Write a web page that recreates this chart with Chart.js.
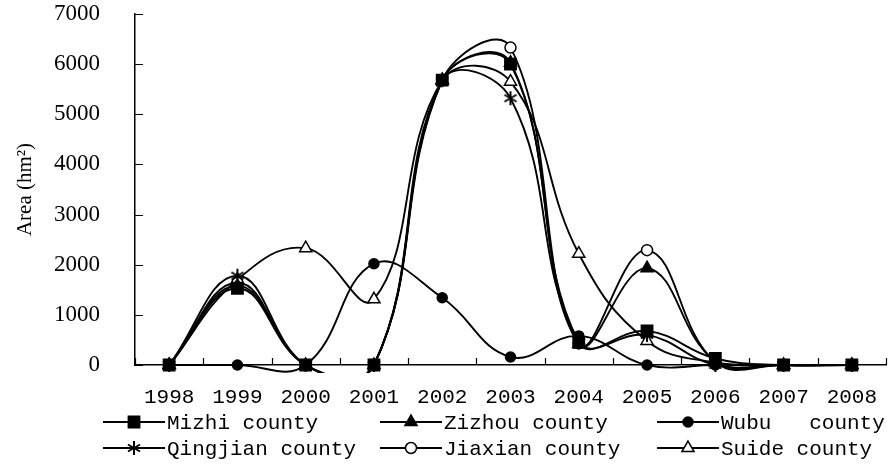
<!DOCTYPE html>
<html><head><meta charset="utf-8">
<script src="https://cdn.jsdelivr.net/npm/chart.js@4/dist/chart.umd.min.js"></script>
<style>html,body{margin:0;padding:0;background:#fff}#wrap{width:888px;height:475px;position:relative}</style>
</head><body><div id="wrap"><canvas id="c" width="888" height="475"></canvas></div>
<script>
// ---- data ----
const years = ['1998','1999','2000','2001','2002','2003','2004','2005','2006','2007','2008'];
const mizhi    = [0, 1530, 0, 0, 5680, 6000, 450, 680, 130, 0, 0];
const zizhou   = [0, 1580, 0, 0, 5680, 6030, 420, 1930, 80, 0, 0];
const wubu     = [0, 0, 0, 2020, 1340, 160, 580, 0, 0, 0, 0];
const qingjian = [0, 1780, 0, 0, 5680, 5320, 470, 600, 0, 0, 0];
const jiaxian  = [0, 1640, 0, 0, 5680, 6330, 430, 2290, 60, 0, 0];
const suide    = [0, 1700, 2330, 1310, 5680, 5650, 2220, 480, 50, 0, 0];
const seriesNames = ['Mizhi county','Zizhou county','Wubu   county','Qingjian county','Jiaxian county','Suide county'];
const yTickValues = [0, 1000, 2000, 3000, 4000, 5000, 6000, 7000];
const yTitle = 'Area (hm\u00B2)';

function makeAsterisk(size){
  const c = document.createElement('canvas'); c.width = size; c.height = size;
  const g = c.getContext('2d'); g.strokeStyle = '#000'; g.lineWidth = 2;
  const h = size/2, r = size/2 - 1;
  g.beginPath();
  for (let k = 0; k < 3; k++) {
    const a = Math.PI/2 + k*Math.PI/3;
    g.moveTo(h + r*Math.cos(a), h + r*Math.sin(a));
    g.lineTo(h - r*Math.cos(a), h - r*Math.sin(a));
  }
  g.stroke();
  return c;
}
const asterisk = makeAsterisk(16);

const styles = [
  {pointStyle:'rect', radius:8, fill:'#000'},
  {pointStyle:'triangle', radius:7, fill:'#000'},
  {pointStyle:'circle', radius:5, fill:'#000'},
  {pointStyle:asterisk, radius:8, fill:'#000'},
  {pointStyle:'circle', radius:5.5, fill:'#fff'},
  {pointStyle:'triangle', radius:7, fill:'#fff'}
];
const seriesData = [mizhi, zizhou, wubu, qingjian, jiaxian, suide];

const datasets = seriesData.map((d, i) => ({
  label: seriesNames[i],
  data: d,
  borderColor: '#000',
  borderWidth: 1.9,
  backgroundColor: styles[i].fill,
  pointBackgroundColor: styles[i].fill,
  pointBorderColor: '#000',
  pointBorderWidth: 1.5,
  pointStyle: styles[i].pointStyle,
  pointRadius: styles[i].radius,
  tension: 0.42,
  fill: false,
  clip: { left: 20, top: 30, right: 10, bottom: 8 }
}));

const innerTicks = {
  id: 'innerTicks',
  beforeDatasetsDraw(chart) {
    const ctx = chart.ctx, a = chart.chartArea;
    const y = chart.scales.y;
    ctx.save();
    ctx.strokeStyle = '#000'; ctx.lineWidth = 1.2;
    ctx.beginPath();
    const n = years.length;
    for (let i = 0; i <= n; i++) {
      const px = Math.round(a.left + i * (a.right - a.left) / n) + 0.5;
      ctx.moveTo(px, a.bottom); ctx.lineTo(px, a.bottom - 7);
    }
    yTickValues.forEach(v => {
      const py = Math.round(y.getPixelForValue(v)) + 0.5;
      ctx.moveTo(a.left, py); ctx.lineTo(a.left + 8, py);
    });
    ctx.stroke();
    ctx.restore();
  },
  afterDraw(chart) {
    const ctx = chart.ctx;
    const cols = [103, 380, 657];
    const rows = [422, 448];
    ctx.save();
    chart.data.datasets.forEach((ds, i) => {
      const x0 = cols[i % 3], y0 = rows[Math.floor(i / 3)];
      ctx.strokeStyle = '#000'; ctx.lineWidth = 1.8;
      ctx.beginPath(); ctx.moveTo(x0, y0); ctx.lineTo(x0 + 62, y0); ctx.stroke();
      ctx.fillStyle = ds.pointBackgroundColor; ctx.strokeStyle = '#000'; ctx.lineWidth = 1.5;
      Chart.helpers.drawPoint(ctx, {pointStyle: ds.pointStyle, radius: ds.pointRadius, rotation: 0, borderWidth: 1.5}, x0 + 31, y0);
      ctx.fillStyle = '#000';
      ctx.font = '21px "Liberation Mono"';
      ctx.textBaseline = 'middle'; ctx.textAlign = 'left';
      ctx.fillText(ds.label, x0 + 64, y0 + 1);
    });
    ctx.restore();
  }
};

new Chart(document.getElementById('c'), {
  type: 'line',
  data: { labels: years, datasets },
  options: {
    responsive: false, animation: false, devicePixelRatio: 1,
    layout: { autoPadding: false, padding: { top: 14, right: 2, left: 0, bottom: 0 } },
    elements: { line: { capBezierPoints: false } },
    plugins: { legend: { display: false }, tooltip: { enabled: false } },
    scales: {
      x: {
        type: 'category', offset: true,
        grid: { display: true, drawOnChartArea: false, drawTicks: false, offset: true, color: 'rgba(0,0,0,0)' },
        border: { display: true, color: '#000', width: 1.5 },
        ticks: { color: '#000', padding: 20, maxRotation: 0, autoSkip: false, font: { family: 'Liberation Mono', size: 21 } },
        afterFit(s) { s.height = 110; s.paddingLeft = 0; s.paddingRight = 0; }
      },
      y: {
        min: 0, max: 7000,
        afterBuildTicks(s) { s.ticks = yTickValues.map(v => ({ value: v })); },
        grid: { display: true, drawOnChartArea: false, drawTicks: false, color: 'rgba(0,0,0,0)' },
        border: { display: true, color: '#000', width: 1.5 },
        ticks: { color: '#000', padding: 35, font: { family: 'Liberation Serif', size: 23 }, callback: v => String(v) },
        title: { display: true, text: yTitle, color: '#000', padding: { top: 13, bottom: 0 }, font: { family: 'Liberation Serif', size: 21 } },
        afterFit(s) { s.width = 135; s.paddingTop = 0; s.paddingBottom = 0; }
      }
    }
  },
  plugins: [innerTicks]
});
</script></body></html>
